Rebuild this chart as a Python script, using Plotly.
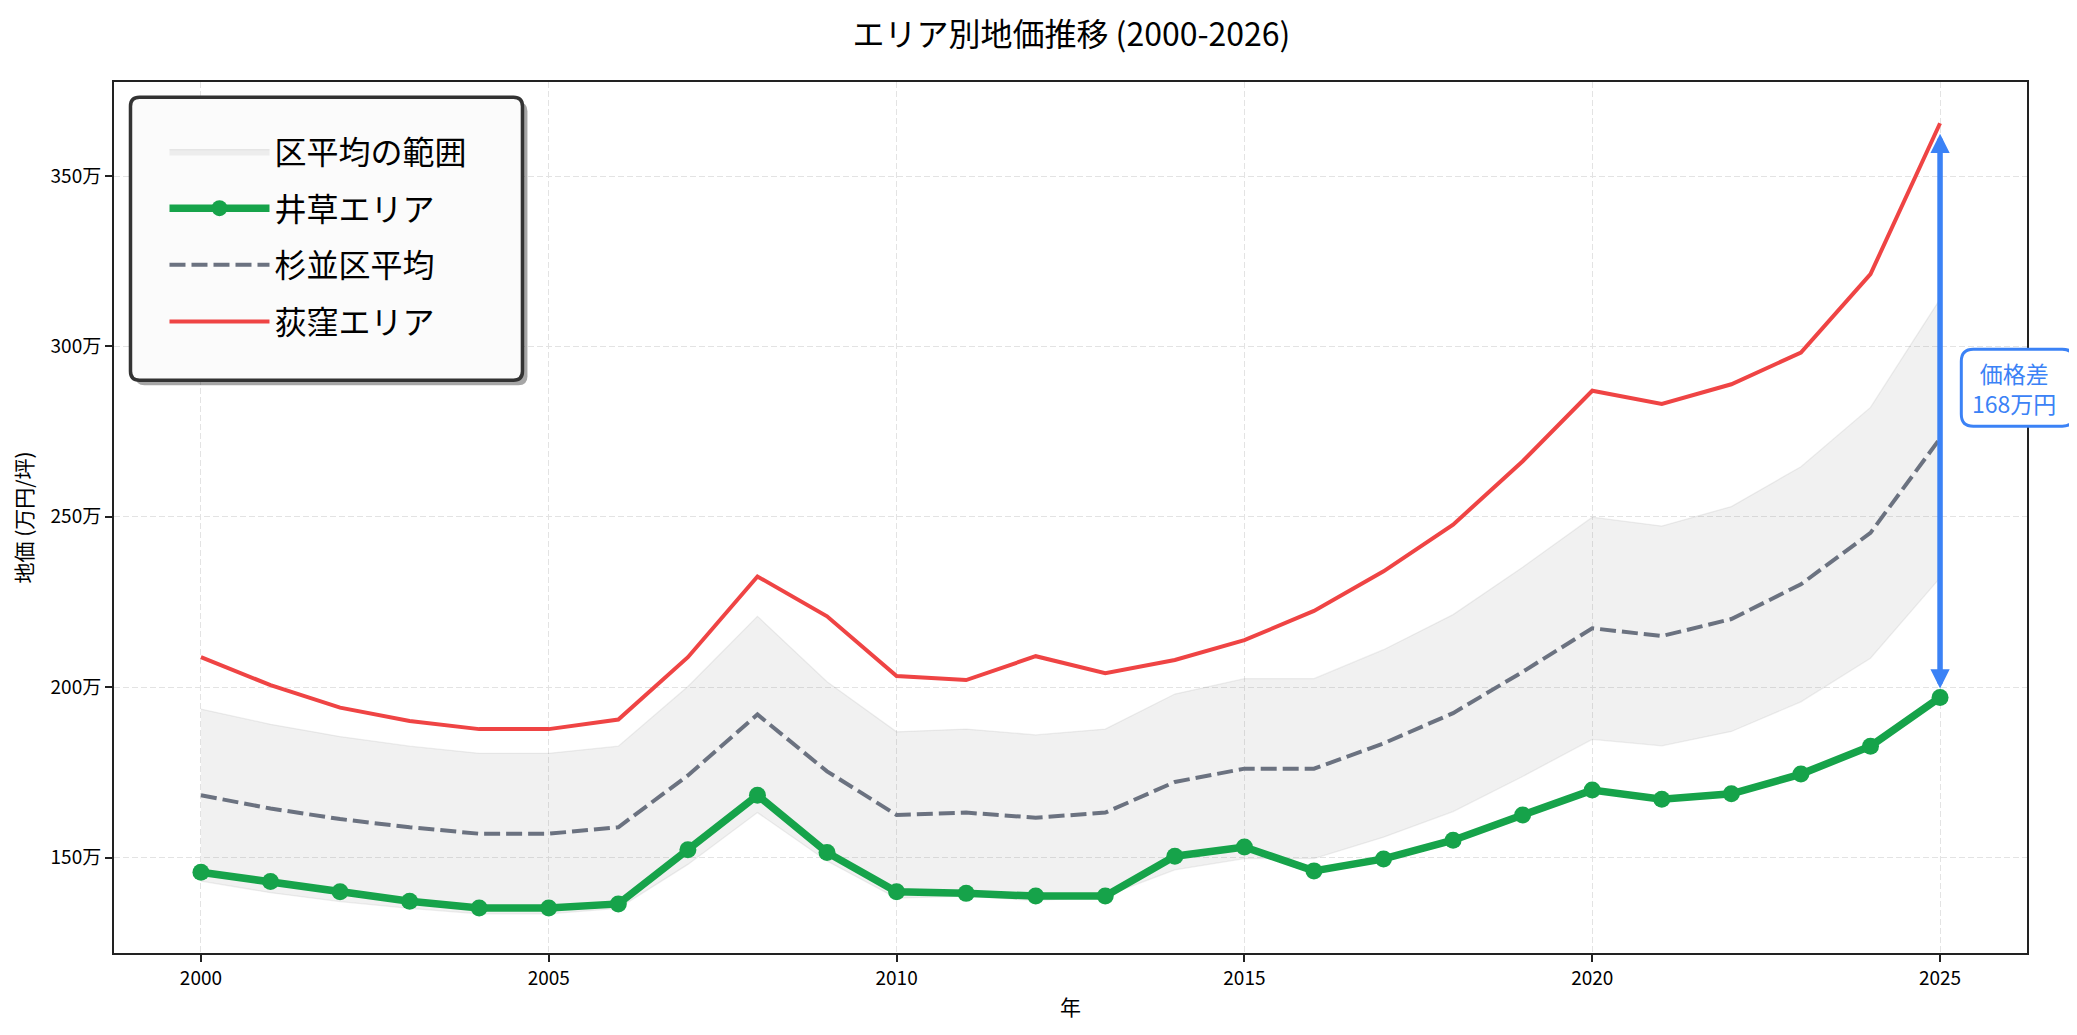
import plotly.graph_objects as go

years = list(range(2000, 2026))
ogikubo = [208.8, 200.6, 194.0, 190.1, 187.7, 187.7, 190.5, 208.8, 232.5, 220.8,
           203.3, 202.1, 209.1, 204.1, 208.0, 213.8, 222.4, 234.0, 247.7, 266.3,
           287.0, 283.1, 288.9, 298.2, 321.2, 365.5]
igusa = [145.7, 143.0, 140.0, 137.2, 135.2, 135.2, 136.4, 152.3, 168.3, 151.5,
         140.0, 139.5, 138.7, 138.7, 150.4, 153.1, 146.1, 149.6, 155.1, 162.5,
         169.8, 167.1, 168.7, 174.5, 182.7, 197.0]
suginami = [168.3, 164.4, 161.3, 158.9, 157.0, 157.0, 158.9, 174.1, 192.0, 175.3,
            162.5, 163.2, 161.7, 163.2, 172.2, 176.1, 176.1, 183.5, 192.4, 204.5,
            217.3, 215.0, 220.0, 230.2, 245.3, 273.0]
band_upper = [193.6, 189.1, 185.5, 182.7, 180.6, 180.6, 182.7, 200.2, 220.8, 201.6,
              186.9, 187.7, 186.0, 187.7, 198.0, 202.5, 202.5, 211.0, 221.3, 235.2,
              249.9, 247.3, 253.0, 264.7, 282.1, 313.9]
band_lower = [143.1, 139.7, 137.1, 135.1, 133.5, 133.5, 135.1, 148.0, 163.2, 149.0,
              138.1, 138.7, 137.4, 138.7, 146.4, 149.7, 149.7, 156.0, 163.5, 173.8,
              184.7, 182.8, 187.0, 195.7, 208.5, 232.1]
ytick_vals = [150, 200, 250, 300, 350]
ytick_text = ["150万", "200万", "250万", "300万", "350万"]
xtick_vals = [2000, 2005, 2010, 2015, 2020, 2025]
gap_label = "価格差<br>168万円"

FONT = "Noto Sans CJK JP"
OFF = 8  # browser body margin
PAGE_W, PAGE_H = 2077, 1035
W, H = PAGE_W - OFF, PAGE_H - OFF
# plot area in page pixels
PL, PR, PT, PB = 113.5, 2026.7, 81.7, 953.0
ML, MT = PL - OFF, PT - OFF
MR, MB = W - (PR - OFF), H - (PB - OFF)
PW, PH = PR - PL, PB - PT


def px2paper(px, py):
    return (px - PL) / PW, (PB - py) / PH


def rounded_rect(x0, y0, x1, y1, r):
    def p(x, y):
        a, b = px2paper(x, y)
        return f"{a:.5f},{b:.5f}"
    return (f"M{p(x0 + r, y0)} L{p(x1 - r, y0)} Q{p(x1, y0)} {p(x1, y0 + r)} "
            f"L{p(x1, y1 - r)} Q{p(x1, y1)} {p(x1 - r, y1)} "
            f"L{p(x0 + r, y1)} Q{p(x0, y1)} {p(x0, y1 - r)} "
            f"L{p(x0, y0 + r)} Q{p(x0, y0)} {p(x0 + r, y0)} Z")


fig = go.Figure()
fig.add_trace(go.Scatter(x=years, y=band_upper, mode="lines",
                         line=dict(color="rgba(128,128,128,0.13)", width=1.3),
                         showlegend=False, hoverinfo="skip", legendgroup="g0"))
fig.add_trace(go.Scatter(x=years, y=band_lower, mode="lines", fill="tonexty",
                         fillcolor="rgba(128,128,128,0.11)",
                         line=dict(color="rgba(128,128,128,0.13)", width=1.3),
                         name="区平均の範囲", legendgroup="g0"))
fig.add_trace(go.Scatter(x=years, y=igusa, mode="lines+markers", name="井草エリア",
                         line=dict(color="#16a34a", width=7.5),
                         marker=dict(color="#16a34a", size=17), legendgroup="g1"))
fig.add_trace(go.Scatter(x=years, y=suginami, mode="lines", name="杉並区平均",
                         line=dict(color="#6b7280", width=4, dash="16px,6px"),
                         legendgroup="g2"))
fig.add_trace(go.Scatter(x=years, y=ogikubo, mode="lines", name="荻窪エリア",
                         line=dict(color="#ef4444", width=4), legendgroup="g3"))

# gap arrow
fig.add_annotation(x=years[-1], y=igusa[-1], ax=years[-1], ay=ogikubo[-1],
                   xref="x", yref="y", axref="x", ayref="y", text="",
                   showarrow=True, arrowside="end+start", arrowhead=2, startarrowhead=2,
                   arrowsize=0.7, startarrowsize=0.7, arrowwidth=5.5,
                   arrowcolor="#3b82f6", standoff=9, startstandoff=9)

shapes = []
shapes.append(dict(type="path", xref="paper", yref="paper", layer="above",
                   path=rounded_rect(135, 102, 527, 385, 9),
                   fillcolor="rgba(0,0,0,0.35)", line=dict(width=0)))
shapes.append(dict(type="path", xref="paper", yref="paper", layer="above",
                   path=rounded_rect(130, 97, 522, 380, 9),
                   fillcolor="#fbfbfb", line=dict(color="#333333", width=3.5)))
shapes.append(dict(type="path", xref="paper", yref="paper", layer="above",
                   path=rounded_rect(1961, 349, 2074, 426, 12),
                   fillcolor="white", line=dict(color="#3b82f6", width=3)))
fig.update_layout(shapes=shapes)

gx, gy = px2paper(2014, 388)
fig.add_annotation(x=gx, y=gy, xref="paper", yref="paper", text=gap_label,
                   showarrow=False, font=dict(family=FONT, size=23, color="#3b82f6"),
                   align="center", xanchor="center", yanchor="middle")

lx, ly = px2paper(164, 124)
fig.update_layout(
    width=W, height=H,
    margin=dict(l=ML, r=MR, t=MT, b=MB, pad=0),
    paper_bgcolor="white", plot_bgcolor="white",
    font=dict(family=FONT, color="black"),
    title=dict(text="エリア別地価推移 (2000-2026)", x=0.514, xref="container",
               y=1 - 27 / H, yref="container", xanchor="center", yanchor="middle",
               font=dict(family=FONT, size=32, color="black")),
    legend=dict(x=lx, y=ly, xanchor="left", yanchor="top",
                bgcolor="rgba(0,0,0,0)", borderwidth=0,
                font=dict(family=FONT, size=32, color="black"),
                traceorder="grouped", tracegroupgap=12, itemwidth=100),
    showlegend=True,
)
fig.update_xaxes(range=[1998.75, 2026.25], tickvals=xtick_vals,
                 ticks="outside", ticklen=7, tickwidth=1.5, tickcolor="#222",
                 showline=True, linecolor="#222", linewidth=2, mirror=True,
                 showgrid=True, gridcolor="#e3e3e3", gridwidth=1.3, griddash="6px,3px",
                 zeroline=False, tickfont=dict(family=FONT, size=19, color="black"),
                 title=dict(text="年", font=dict(family=FONT, size=21), standoff=12))
fig.update_yaxes(range=[122.0, 377.6], tickvals=ytick_vals, ticktext=ytick_text,
                 ticks="outside", ticklen=7, tickwidth=1.5, tickcolor="#222",
                 showline=True, linecolor="#222", linewidth=2, mirror=True,
                 showgrid=True, gridcolor="#e3e3e3", gridwidth=1.3, griddash="6px,3px",
                 zeroline=False, tickfont=dict(family=FONT, size=19, color="black"),
                 title=dict(text="地価 (万円/坪)", font=dict(family=FONT, size=21), standoff=14))

fig.write_html("out.html")
